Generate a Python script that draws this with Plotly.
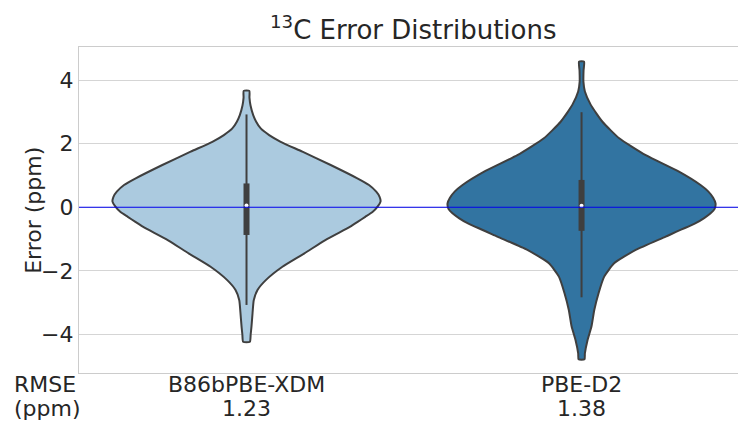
import plotly.graph_objects as go

# Methods and their RMSE (ppm)
methods = ["B86bPBE-XDM", "PBE-D2"]
rmse = ["1.23", "1.38"]
fill_colors = ["#abcadf", "#3274a1"]

# Kernel density profiles (relative density, max = 1) over error levels (ppm)
xdm_err = [3.66, 3.45, 3.2, 2.9, 2.7, 2.48, 2.27, 2.06, 1.75, 1.33, 0.91, 0.70, 0.49,
           0.33, 0.18, 0.02, -0.15, -0.30, -0.45, -0.61, -1.03, -1.45, -1.87, -2.29,
           -2.60, -2.92, -3.33, -3.75, -4.0, -4.23]
xdm_dens = [0.021, 0.022, 0.030, 0.050, 0.071, 0.106, 0.169, 0.255, 0.417, 0.628, 0.827,
            0.914, 0.968, 0.993, 1.0, 0.978, 0.940, 0.886, 0.832, 0.774, 0.588, 0.432,
            0.268, 0.144, 0.082, 0.054, 0.045, 0.037, 0.031, 0.025]

d2_err = [4.58, 4.3, 3.95, 3.64, 3.22, 2.69, 2.17, 1.64, 1.12, 0.70, 0.50, 0.30, 0.12,
          -0.05, -0.19, -0.34, -0.50, -0.92, -1.34, -1.76, -2.18, -2.70, -3.23, -3.75,
          -4.17, -4.59, -4.78]
d2_dens = [0.019, 0.015, 0.014, 0.025, 0.069, 0.156, 0.281, 0.479, 0.727, 0.888, 0.945,
           0.982, 1.0, 0.993, 0.963, 0.915, 0.851, 0.628, 0.404, 0.243, 0.169, 0.127,
           0.095, 0.074, 0.045, 0.025, 0.022]

# Box statistics: lower whisker, Q1, median, Q3, upper whisker
xdm_box = [-3.07, -0.87, 0.06, 0.75, 2.92]
d2_box = [-2.83, -0.74, 0.05, 0.86, 2.99]

profiles = [(xdm_err, xdm_dens), (d2_err, d2_dens)]
boxes = [xdm_box, d2_box]

HALF_WIDTH = 0.4
EDGE = "#3f3f3f"

fig = go.Figure()

for i, ((err, dens), box, col) in enumerate(zip(profiles, boxes, fill_colors)):
    # violin outline: right side bottom-to-top, then left side top-to-bottom
    right_y = list(reversed(err))
    right_x = [i + HALF_WIDTH * d for d in reversed(dens)]
    left_y = list(err)
    left_x = [i - HALF_WIDTH * d for d in dens]
    fig.add_trace(go.Scatter(
        x=right_x + left_x + [right_x[0]],
        y=right_y + left_y + [right_y[0]],
        mode="lines", fill="toself", fillcolor=col,
        line=dict(color=EDGE, width=2, shape="spline", smoothing=0.5),
        hoverinfo="skip", showlegend=False,
    ))
    lo, q1, med, q3, hi = box
    # whiskers
    fig.add_trace(go.Scatter(
        x=[i, i], y=[lo, hi], mode="lines",
        line=dict(color=EDGE, width=2), showlegend=False, hoverinfo="skip",
    ))
    # interquartile box
    fig.add_trace(go.Scatter(
        x=[i, i], y=[q1, q3], mode="lines",
        line=dict(color=EDGE, width=6), showlegend=False, hoverinfo="skip",
    ))
    # median
    fig.add_trace(go.Scatter(
        x=[i], y=[med], mode="markers",
        marker=dict(color="white", size=4), showlegend=False, hoverinfo="skip",
    ))

FONT = "DejaVu Sans"
TXT = "#262626"
FS = 22

# category labels with their RMSE below, plus the row header on the left
notes = []
for i, (m, r) in enumerate(zip(methods, rmse)):
    notes.append(dict(text=m, xref="x", yref="paper", x=i, y=-0.034, yanchor="middle",
                      showarrow=False, font=dict(size=FS, family=FONT, color=TXT)))
    notes.append(dict(text=r, xref="x", yref="paper", x=i, y=-0.11, yanchor="middle",
                      showarrow=False, font=dict(size=FS, family=FONT, color=TXT)))
notes.append(dict(text="RMSE", xref="paper", yref="paper", x=-0.102, y=-0.034,
                  xanchor="left", yanchor="middle", showarrow=False,
                  font=dict(size=FS, family=FONT, color=TXT)))
notes.append(dict(text="(ppm)", xref="paper", yref="paper", x=-0.102, y=-0.11,
                  xanchor="left", yanchor="middle", showarrow=False,
                  font=dict(size=FS, family=FONT, color=TXT)))
# y-axis title
notes.append(dict(text="Error (ppm)", xref="paper", yref="paper", x=-0.07, y=0.5,
                  xanchor="center", yanchor="middle", textangle=-90, showarrow=False,
                  font=dict(size=FS, family=FONT, color=TXT)))

fig.update_layout(
    width=738, height=423,
    margin=dict(l=79, r=0, t=47, b=50),
    paper_bgcolor="white", plot_bgcolor="white",
    font=dict(family=FONT, color=TXT, size=FS),
    title=dict(text="<sup>13</sup>C Error Distributions", x=0.56, xanchor="center",
               y=0.93, yanchor="middle", font=dict(size=26, family=FONT, color=TXT)),
    xaxis=dict(
        range=[-0.5, 1.467], tickvals=[0, 1], showticklabels=False,
        showgrid=False, zeroline=False, showline=True, mirror=True,
        linecolor="#cccccc", linewidth=1.3, ticks="", automargin=False,
    ),
    yaxis=dict(
        range=[-5.21, 5.04], tickvals=[-4, -2, 0, 2, 4],
        ticktext=["\u22124", "\u22122", "0", "2", "4"],
        showgrid=True, gridcolor="#d5d5d5", gridwidth=1,
        zeroline=False, showline=True, linecolor="#cccccc", linewidth=1.3,
        ticks="", automargin=False, tickfont=dict(size=FS, family=FONT, color=TXT),
    ),
    shapes=[dict(type="line", xref="paper", x0=0, x1=1, yref="y", y0=0, y1=0,
                 line=dict(color="#0000ee", width=1.1), layer="above")],
    annotations=notes,
)

fig.write_html("out.html")
